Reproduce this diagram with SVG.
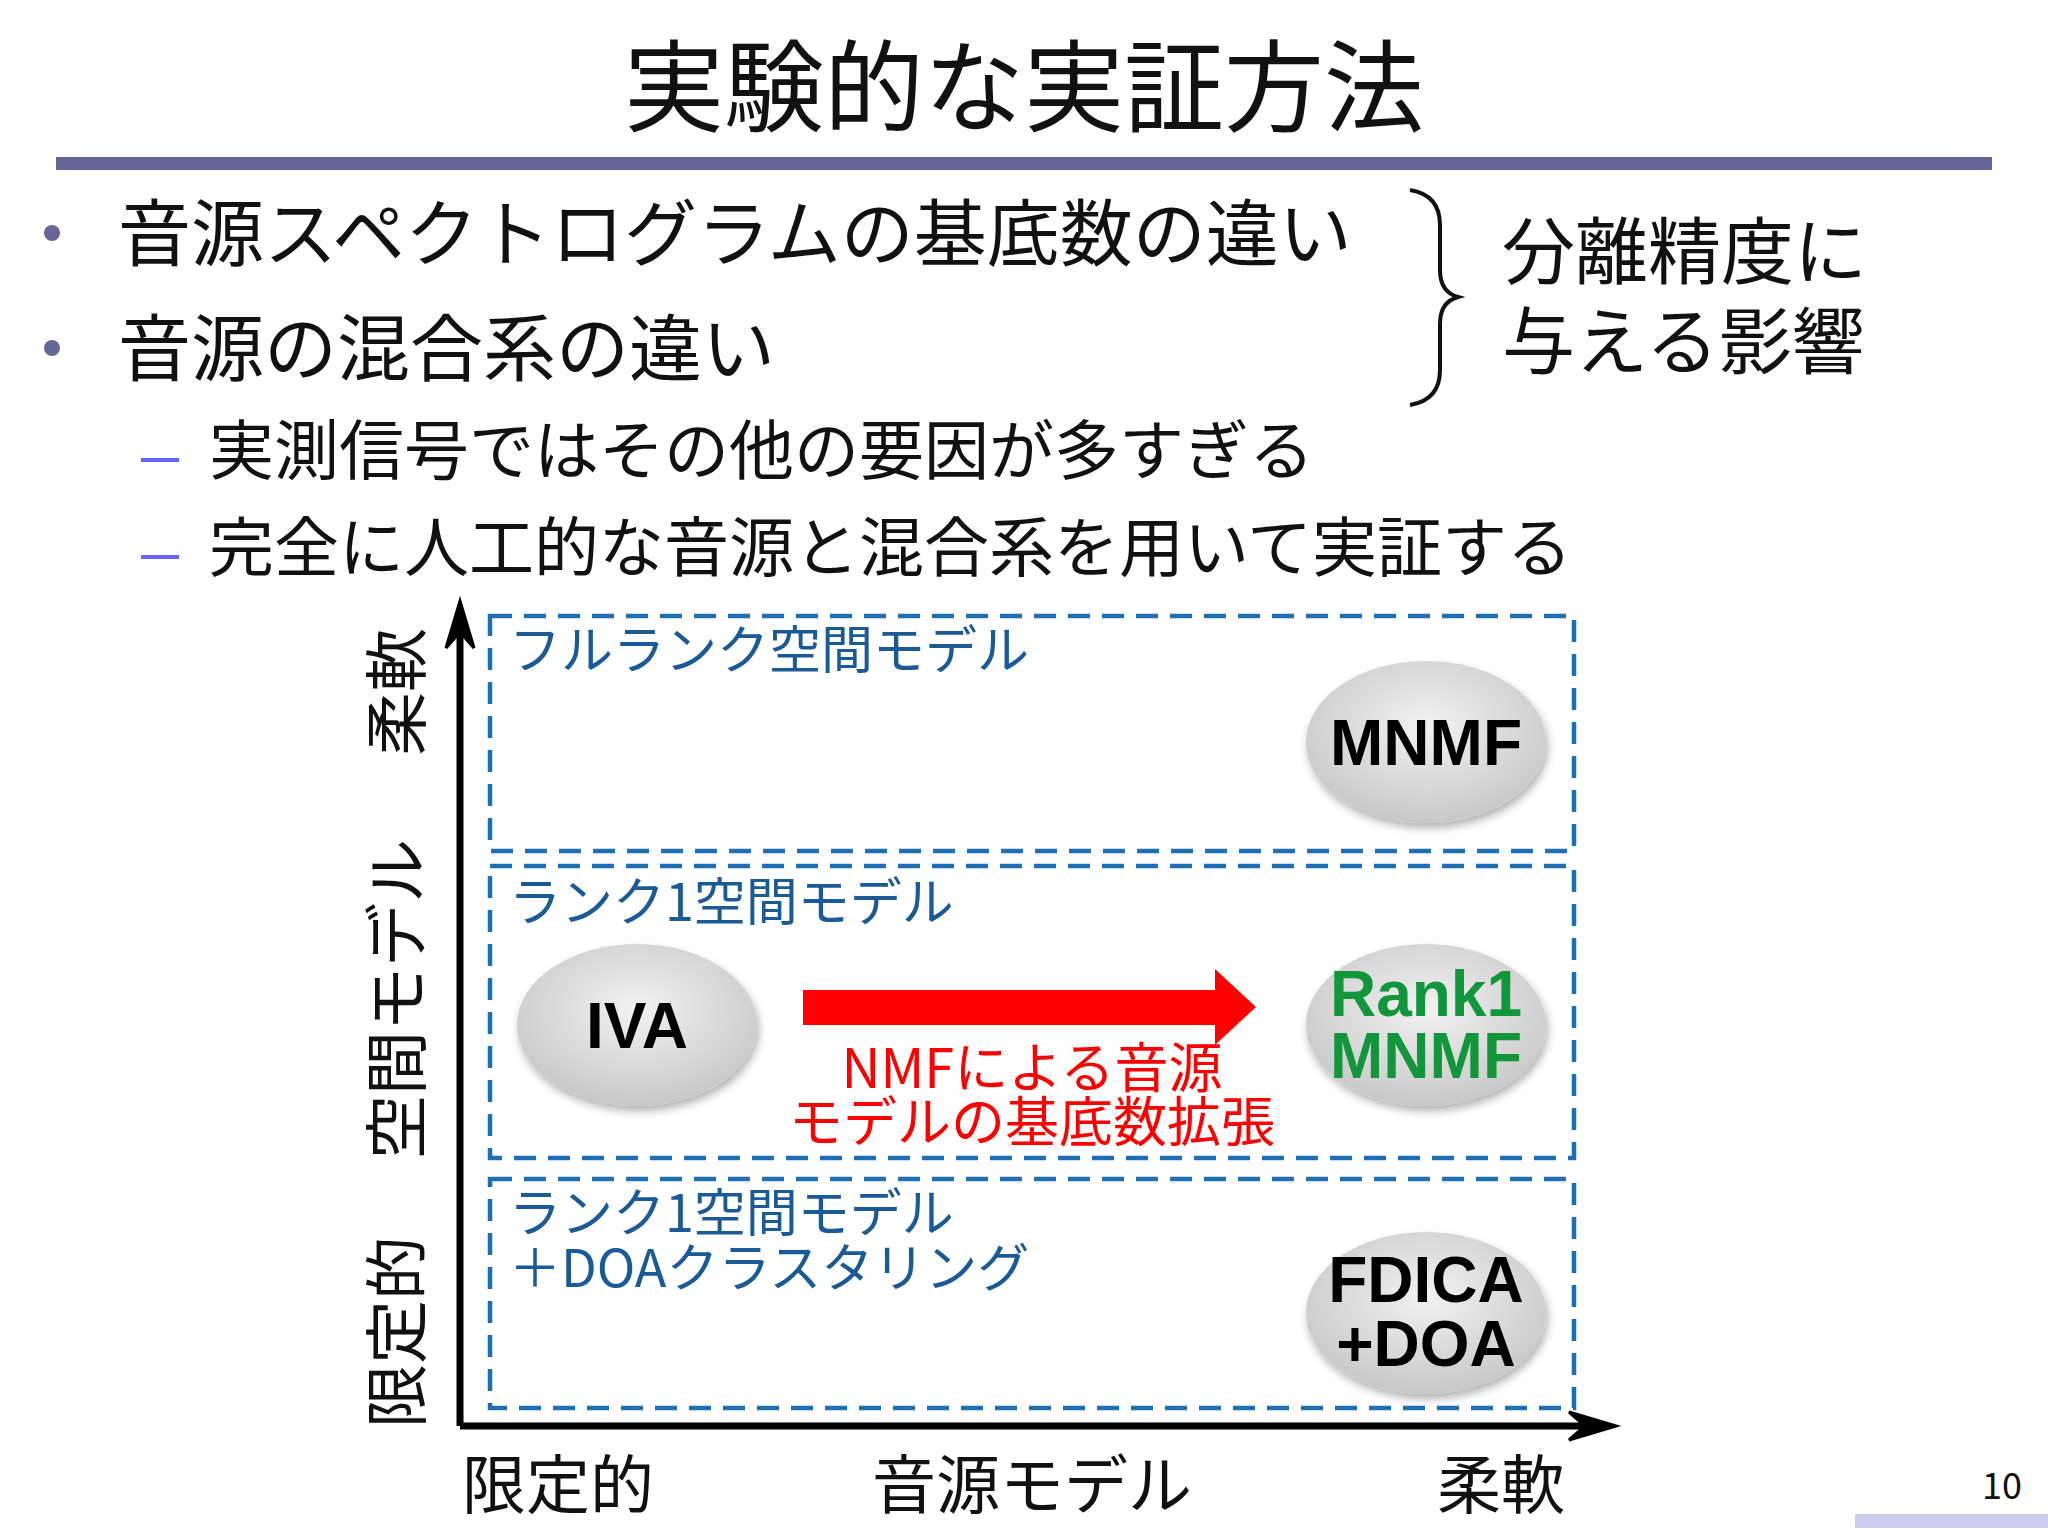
<svg xmlns="http://www.w3.org/2000/svg" width="2048" height="1536" viewBox="0 0 2048 1536">
<style>
text{font-family:"Noto Sans CJK JP","Liberation Sans",sans-serif;}
.b{font-size:73px;fill:#111}
.s{font-size:65px;fill:#111}
.bl{font-size:52px;fill:#1a5a96}
.box{fill:none;stroke:#1f6fb5;stroke-width:4.5;stroke-dasharray:22 12}
.ax{stroke:#000;stroke-width:7;fill:none}
.en{font-family:"Liberation Sans",Arial,sans-serif;font-weight:bold;font-size:64px;text-anchor:middle}
.ax-l{font-size:64px;fill:#111}
</style>
<defs>
<radialGradient id="g" cx="0.5" cy="0.4" r="0.6">
<stop offset="0" stop-color="#f2f2f2"/><stop offset="1" stop-color="#c8c8c8"/>
</radialGradient>
<filter id="sh" x="-20%" y="-20%" width="140%" height="150%"><feDropShadow dx="2" dy="5" stdDeviation="4" flood-opacity="0.3"/></filter>
</defs>
<rect width="2048" height="1536" fill="#fff"/>
<text x="1024" y="124" text-anchor="middle" font-size="100" fill="#111">実験的な実証方法</text>
<rect x="56" y="157" width="1936" height="13" fill="#666699"/>
<g id="bullets">
<circle cx="52" cy="233" r="8" fill="#666699"/>
<circle cx="52" cy="348" r="8" fill="#666699"/>
<text class="b" x="118" y="260">音源スペクトログラムの基底数の違い</text>
<text class="b" x="118" y="375">音源の混合系の違い</text>
<rect x="141" y="458" width="38" height="4" fill="#6666ff"/>
<rect x="141" y="555" width="38" height="4" fill="#6666ff"/>
<text class="s" x="209" y="474">実測信号ではその他の要因が多すぎる</text>
<text class="s" x="209" y="571">完全に人工的な音源と混合系を用いて実証する</text>
<path d="M1410 190 Q1440 195 1440 225 L1440 270 Q1440 292 1458 297 Q1440 302 1440 324 L1440 370 Q1440 400 1410 405" fill="none" stroke="#111" stroke-width="4"/>
<text class="b" x="1502" y="278" font-size="80">分離精度に</text>
<text class="b" x="1502" y="368" font-size="80">与える影響</text>
</g>
<g id="connectors">
<path class="ax" d="M460 1426 L460 615"/>
<path d="M460 601 L446 648 L460 632 L474 648 Z" fill="#000" stroke="#000" stroke-width="3"/>
<path class="ax" d="M460 1426 L1600 1426"/>
<path d="M1616 1426 L1569 1412 L1585 1426 L1569 1440 Z" fill="#000" stroke="#000" stroke-width="3"/>
<path d="M803 990 L1215 990 L1215 969 L1256 1007 L1215 1045 L1215 1025 L803 1025 Z" fill="#ff0000"/>
</g>
<g id="box1"><rect class="box" x="490" y="616" width="1084" height="235"/><text class="bl" x="509" y="669">フルランク空間モデル</text></g>
<g id="box2"><rect class="box" x="490" y="866" width="1084" height="292"/><text class="bl" x="509" y="921">ランク1空間モデル</text></g>
<g id="box3"><rect class="box" x="490" y="1179" width="1084" height="229"/><text class="bl" x="509" y="1232">ランク1空間モデル</text><text class="bl" x="509" y="1287">＋DOAクラスタリング</text></g>
<g id="mnmf"><ellipse cx="1426" cy="742" rx="120" ry="81" fill="url(#g)" filter="url(#sh)"/><text class="en" x="1426" y="765">MNMF</text></g>
<g id="iva"><ellipse cx="637" cy="1025" rx="120" ry="81" fill="url(#g)" filter="url(#sh)"/><text class="en" x="637" y="1048">IVA</text></g>
<g id="rank1"><ellipse cx="1426" cy="1025" rx="120" ry="81" fill="url(#g)" filter="url(#sh)"/><text class="en" x="1426" y="1016" fill="#12963c">Rank1</text><text class="en" x="1426" y="1078" fill="#12963c">MNMF</text></g>
<g id="fdica"><ellipse cx="1426" cy="1313" rx="120" ry="81" fill="url(#g)" filter="url(#sh)"/><text class="en" x="1426" y="1302">FDICA</text><text class="en" x="1426" y="1366">+DOA</text></g>
<g id="redlabel"><text x="1032" y="1088" text-anchor="middle" font-size="54" fill="#ff0000">NMFによる音源</text><text x="1032" y="1142" text-anchor="middle" font-size="54" fill="#ff0000">モデルの基底数拡張</text></g>
<g id="axislabels">
<text class="ax-l" transform="translate(420,692) rotate(-90)" text-anchor="middle">柔軟</text>
<text class="ax-l" transform="translate(420,999) rotate(-90)" text-anchor="middle">空間モデル</text>
<text class="ax-l" transform="translate(420,1332) rotate(-90)" text-anchor="middle">限定的</text>
<text class="ax-l" x="462" y="1508">限定的</text>
<text class="ax-l" x="872" y="1508">音源モデル</text>
<text class="ax-l" x="1437" y="1508">柔軟</text>
</g>
<rect x="1855" y="1514" width="193" height="14" fill="#ccccee"/>
<text x="2022" y="1499" text-anchor="end" font-size="36" font-family="Liberation Sans,sans-serif" fill="#111">10</text>
</svg>
